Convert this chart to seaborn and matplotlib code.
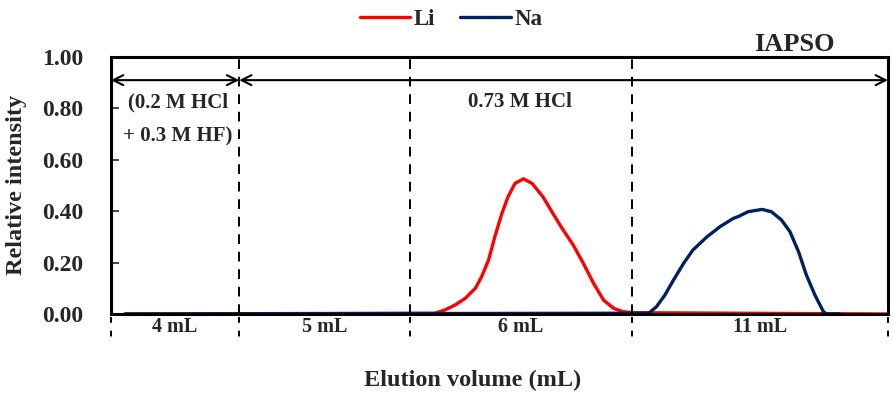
import numpy as np
import pandas as pd
import matplotlib.pyplot as plt
import seaborn as sns

# x is a relative position along the column (0-100), segments of eluted volume
seg_bounds = [0, 16.5, 38.5, 67, 100]
seg_labels = ["4 mL", "5 mL", "6 mL", "11 mL"]

li_x = [1.8, 41.7, 43.0, 44.3, 45.6, 46.9, 47.7, 48.6, 49.4, 50.3, 51.1, 52.0, 53.1,
        54.2, 55.6, 56.9, 58.2, 59.5, 60.8, 62.1, 63.4, 64.7, 65.9, 67.2, 100]
li_y = [0, 0.003, 0.016, 0.035, 0.061, 0.10, 0.145, 0.21, 0.30, 0.39, 0.456, 0.508, 0.526,
        0.508, 0.456, 0.39, 0.327, 0.268, 0.197, 0.12, 0.054, 0.022, 0.009, 0.005, 0]

na_x = [1.8, 69.2, 70.2, 71.3, 72.4, 73.7, 74.9, 76.7, 78.4, 80.1, 80.8, 82.0, 83.8,
        85.0, 86.3, 87.4, 88.5, 89.5, 90.6, 91.7, 92.1, 93.8]
na_y = [0, 0.003, 0.028, 0.074, 0.132, 0.197, 0.249, 0.30, 0.34, 0.372, 0.38, 0.398, 0.407,
        0.398, 0.366, 0.32, 0.242, 0.152, 0.074, 0.009, 0, 0]

yticks = [0.0, 0.2, 0.4, 0.6, 0.8, 1.0]

sns.set_style("white")
plt.rcParams['font.family'] = ['Liberation Serif', 'DejaVu Serif']
plt.rcParams['font.weight'] = 'bold'

df = pd.concat([
    pd.DataFrame({"x": li_x, "y": li_y, "Element": "Li"}),
    pd.DataFrame({"x": na_x, "y": na_y, "Element": "Na"}),
])

fig = plt.figure(figsize=(8.93, 3.96), dpi=100)
ax = fig.add_axes([0.1243, 0.2071, 0.870, 0.6489])

sns.lineplot(data=df, x="x", y="y", hue="Element", hue_order=["Li", "Na"],
             palette={"Li": "#FF0000", "Na": "#002060"}, linewidth=2.4, ax=ax,
             sort=False, estimator=None)

ax.set_xlim(0, 100)
ax.set_ylim(0, 1.0)
ax.set_xticks([])
ax.set_yticks(yticks)
ax.set_yticklabels(["%.2f" % v for v in yticks], fontsize=17, fontweight='bold')
ax.tick_params(axis='y', direction='in', length=6, width=1.2, left=True, pad=20)
ax.set_xlabel("")
ax.set_ylabel("")
for s in ax.spines.values():
    s.set_linewidth(2.2)
    s.set_color("black")

# dashed dividers inside and ticks below the axis
for b in seg_bounds[1:-1]:
    ax.plot([b, b], [0, 1], ls=(0, (5, 4)), color="black", lw=1.4)
for b in seg_bounds:
    ax.plot([b, b], [-0.01, -0.09], ls=(0, (3, 4)), color="black", lw=1.4, clip_on=False)

for i, lab in enumerate(seg_labels):
    ax.text((seg_bounds[i] + seg_bounds[i + 1]) / 2, -0.05, lab, ha="center", va="center",
            fontsize=14.5, fontweight='bold')

# eluent arrows
ax.annotate("", xy=(seg_bounds[1], 0.91), xytext=(0, 0.91),
            arrowprops=dict(arrowstyle="<->", lw=1.5, color="black", mutation_scale=18,
                            shrinkA=0, shrinkB=0))
ax.annotate("", xy=(100, 0.91), xytext=(seg_bounds[1], 0.91),
            arrowprops=dict(arrowstyle="<->", lw=1.5, color="black", mutation_scale=18,
                            shrinkA=0, shrinkB=0))
ax.text(8.6, 0.825, "(0.2 M HCl", ha="center", va="center", fontsize=15, fontweight='bold')
ax.text(8.6, 0.69, "+ 0.3 M HF)", ha="center", va="center", fontsize=15, fontweight='bold')
ax.text(52.6, 0.825, "0.73 M HCl", ha="center", va="center", fontsize=15, fontweight='bold')
ax.text(88, 1.05, "IAPSO", ha="center", va="center", fontsize=19, fontweight='bold',
        clip_on=False)

fig.text(0.529, 0.04, "Elution volume (mL)", ha="center", va="center", fontsize=17.5, fontweight='bold')
fig.text(0.018, 0.533, "Relative intensity", ha="center", va="center", rotation=90,
         fontsize=17.5, fontweight='bold')

sns.move_legend(ax, "upper center", bbox_to_anchor=(0.505, 1.03), bbox_transform=fig.transFigure,
                ncol=2, title=None, frameon=False, fontsize=16.5, handlelength=2.2,
                handletextpad=0.15, columnspacing=1.1)

plt.savefig("out.png", dpi=100)
